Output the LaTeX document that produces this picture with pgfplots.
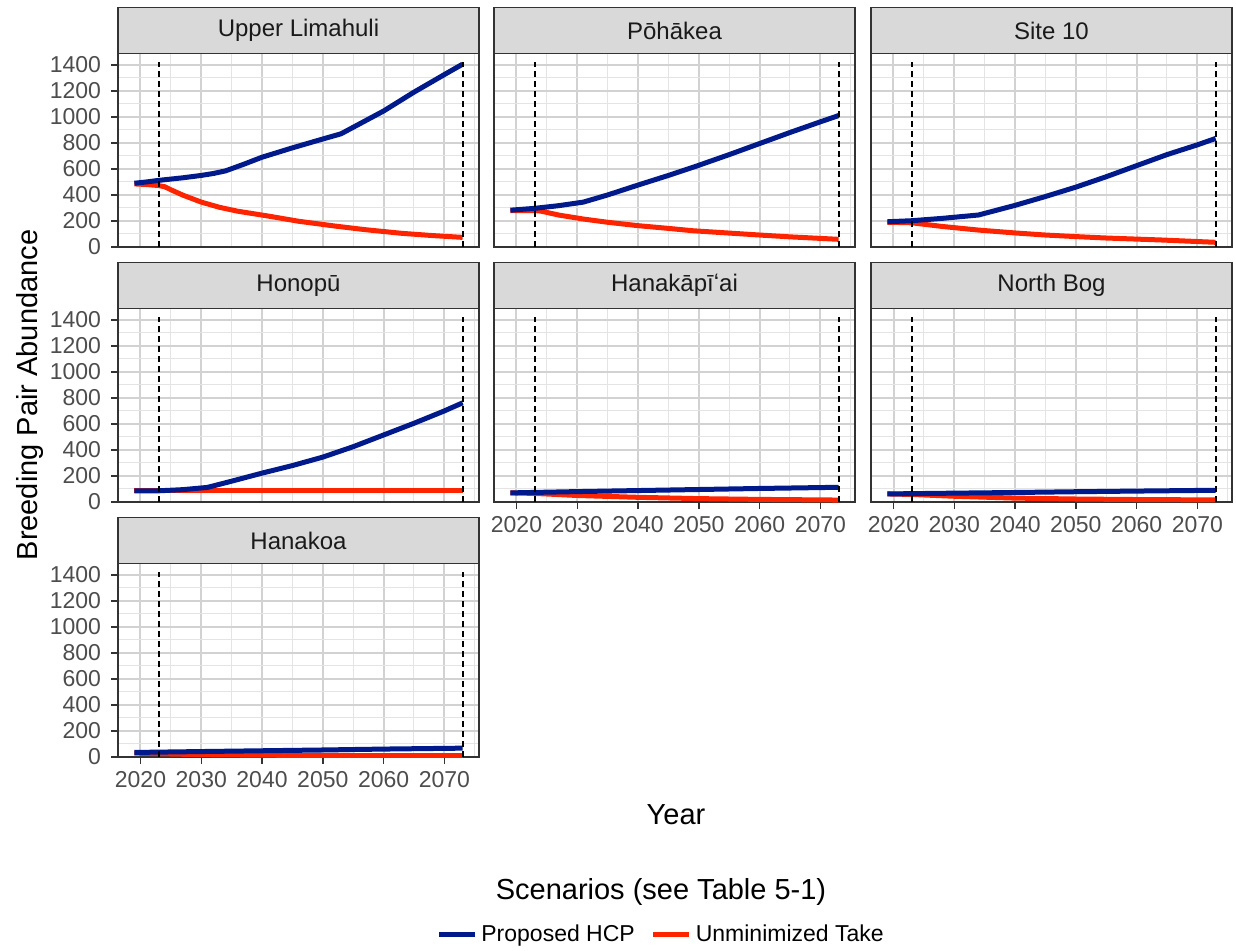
\documentclass[border=0pt]{standalone}
\usepackage{fontspec}
\setmainfont{Liberation Sans}
\usepackage{pgfplots}
\pgfplotsset{compat=1.18}
\definecolor{hcp}{RGB}{0,26,140}
\definecolor{ut}{RGB}{255,36,0}
\definecolor{gridmaj}{RGB}{210,210,210}
\definecolor{gridmin}{RGB}{228,228,228}
\definecolor{g20}{RGB}{51,51,51}
\definecolor{g30}{RGB}{77,77,77}
\definecolor{g85}{RGB}{217,217,217}
\definecolor{g10}{RGB}{26,26,26}
\pgfplotsset{
  panel/.style={
    scale only axis, width=180.5pt, height=96.75pt,
    anchor=south west,
    xmin=2016.3, xmax=2075.7, ymin=0, ymax=1487,
    xtick={2020,2030,2040,2050,2060,2070},
    minor xtick={2025,2035,2045,2055,2065,2075},
    ytick={0,200,400,600,800,1000,1200,1400},
    minor ytick={100,300,500,700,900,1100,1300},
    grid=both,
    major grid style={gridmaj, line width=1pt},
    minor grid style={gridmin, line width=0.5pt},
    axis line style={g20, line width=0.6pt},
    tick align=outside,
    major tick length=3.5pt, minor tick length=0pt,
    xtick pos=bottom, ytick pos=left,
    tick style={g20, line width=0.7pt},
    tick label style={font=\fontsize{11.5}{13}\selectfont, text=g30},
    yticklabel style={xshift=-1.5pt},
    xmajorticks=false, ymajorticks=false,
    xticklabels={}, yticklabels={},
  },
  xlab/.style={xmajorticks=true, xticklabels={2020,2030,2040,2050,2060,2070}},
  ylab/.style={ymajorticks=true, yticklabels={0,200,400,600,800,1000,1200,1400}},
  hcpl/.style={hcp, line width=2.5pt, forget plot},
  utl/.style={ut, line width=2.5pt, forget plot},
  vl/.style={black, line width=0.9pt, dash pattern=on 3pt off 2pt, forget plot},
}
\newcommand\vlines{%
  \addplot[vl] coordinates {(2023,0) (2023,1418)};
  \addplot[vl] coordinates {(2073,0) (2073,1418)};
}
\newcommand\strip[3]{%
  \draw[fill=g85, draw=g20, line width=0.6pt] (#1) rectangle ++(180.5pt,23pt);
  \node[text=g10, font=\fontsize{12}{14}\selectfont, anchor=center] at ([xshift=90.25pt,yshift=11.5pt]#1) {#3};
}
\begin{document}
\begin{tikzpicture}
\useasboundingbox (0,0) rectangle (618pt,475pt);
\coordinate (s1) at (59pt,448.25pt);
\coordinate (s2) at (247pt,448.25pt);
\coordinate (s3) at (435.5pt,448.25pt);
\coordinate (s4) at (59pt,320.75pt);
\coordinate (s5) at (247pt,320.75pt);
\coordinate (s6) at (435.5pt,320.75pt);
\coordinate (s7) at (59pt,193.25pt);

% Upper Limahuli
\begin{axis}[panel, ylab, at={(59pt,351.5pt)}]
\addplot[utl] coordinates {(2019,485)(2021,480)(2023,472)(2024,463)(2025,440)(2027,398)(2030,345)(2033,305)(2036,275)(2041,238)(2046,198)(2052,161)(2057,133)(2063,105)(2068,88)(2073,74)};
\addplot[hcpl] coordinates {(2019,490)(2021,500)(2023,512)(2027,532)(2030,550)(2032,565)(2034,585)(2037,636)(2040,690)(2045,762)(2050,830)(2053,870)(2057,970)(2060,1045)(2065,1190)(2070,1325)(2073,1405)};
\vlines
\end{axis}
% Pohakea
\begin{axis}[panel, at={(247pt,351.5pt)}]
\addplot[utl] coordinates {(2019,280)(2023,280)(2024,276)(2027,245)(2031,215)(2035,190)(2040,164)(2045,143)(2049,125)(2055,107)(2060,92)(2065,78)(2073,59)};
\addplot[hcpl] coordinates {(2019,283)(2023,297)(2027,318)(2031,345)(2035,400)(2040,476)(2045,550)(2050,628)(2055,710)(2060,795)(2065,880)(2070,962)(2073,1010)};
\vlines
\end{axis}
% Site 10
\begin{axis}[panel, at={(435.5pt,351.5pt)}]
\addplot[utl] coordinates {(2019,190)(2023,186)(2028,158)(2034,130)(2040,108)(2045,92)(2050,80)(2055,69)(2064,54)(2073,36)};
\addplot[hcpl] coordinates {(2019,194)(2023,202)(2028,220)(2034,246)(2040,320)(2045,388)(2050,460)(2055,540)(2060,625)(2065,710)(2070,785)(2073,834)};
\vlines
\end{axis}
% Honopu
\begin{axis}[panel, ylab, at={(59pt,224pt)}]
\addplot[utl] coordinates {(2019,86)(2073,86)};
\addplot[hcpl] coordinates {(2019,86)(2023,86)(2027,95)(2031,112)(2035,160)(2040,222)(2045,280)(2050,345)(2055,425)(2060,515)(2065,605)(2070,700)(2073,762)};
\vlines
\end{axis}
% Hanakapiai
\begin{axis}[panel, xlab, at={(247pt,224pt)}]
\addplot[utl] coordinates {(2019,70)(2023,66)(2030,50)(2040,36)(2050,26)(2060,20)(2073,15)};
\addplot[hcpl] coordinates {(2019,70)(2030,80)(2040,88)(2050,96)(2060,104)(2073,113)};
\vlines
\end{axis}
% North Bog
\begin{axis}[panel, xlab, at={(435.5pt,224pt)}]
\addplot[utl] coordinates {(2019,62)(2023,58)(2030,44)(2040,30)(2050,23)(2060,19)(2073,16)};
\addplot[hcpl] coordinates {(2019,62)(2030,68)(2040,73)(2050,79)(2060,84)(2073,90)};
\vlines
\end{axis}
% Hanakoa
\begin{axis}[panel, xlab, ylab, at={(59pt,96.5pt)},
  legend style={at={(1.507,-0.918)}, anchor=center, draw=none, fill=none,
    font=\fontsize{11.5}{13}\selectfont, legend columns=2,
    /tikz/every even column/.append style={column sep=6pt}},
  legend cell align=left,
  legend image code/.code={\draw[#1] (0pt,0pt) -- (12pt,0pt); \path (12pt,0pt) -- (18pt,0pt);}]
\addlegendimage{hcp, line width=2.5pt}
\addlegendentry{Proposed HCP}
\addlegendimage{ut, line width=2.5pt}
\addlegendentry{Unminimized Take}
\addplot[utl] coordinates {(2019,30)(2023,25)(2030,18)(2040,14)(2050,12)(2073,10)};
\addplot[hcpl] coordinates {(2019,35)(2030,42)(2040,48)(2050,54)(2060,61)(2073,68)};
\vlines
\end{axis}

\strip{s1}{}{Upper Limahuli}
\strip{s2}{}{Pōhākea}
\strip{s3}{}{Site 10}
\strip{s4}{}{Honopū}
\strip{s5}{}{Hanakāpīʻai}
\strip{s6}{}{North Bog}
\strip{s7}{}{Hanakoa}

\node[rotate=90, font=\fontsize{14.5}{16}\selectfont] at (15pt,277.5pt) {Breeding Pair Abundance};
\node[font=\fontsize{14.5}{16}\selectfont] at (338pt,67.5pt) {Year};
\node[font=\fontsize{14.5}{16}\selectfont] at (330.5pt,29pt) {Scenarios (see Table 5-1)};
\end{tikzpicture}
\end{document}
